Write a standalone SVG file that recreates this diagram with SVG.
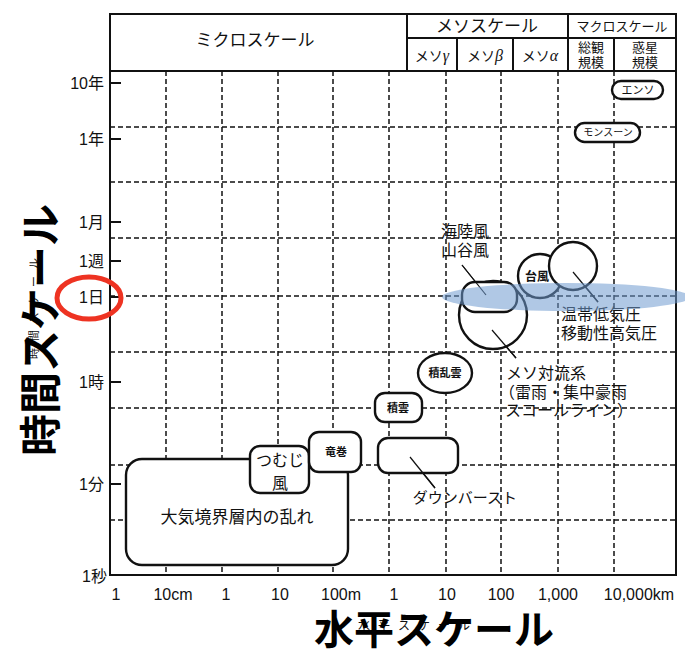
<svg xmlns="http://www.w3.org/2000/svg" width="685" height="652" viewBox="0 0 685 652">
<style>
.g{stroke:#111;stroke-width:1.5;stroke-dasharray:5 3;fill:none}
.s{stroke:#111;stroke-width:2;fill:none}
.n{stroke:#111;stroke-width:2.4;fill:#fff}
.ld{stroke:#111;stroke-width:1.2}
.t{font-family:"Noto Sans CJK JP","Liberation Sans",sans-serif;fill:#111}
.a{font-family:"Liberation Sans","Noto Sans CJK JP",sans-serif;font-size:16px;fill:#111}
.b{font-family:"Noto Sans CJK JP",sans-serif;font-weight:bold;fill:#000}
</style>
<rect width="685" height="652" fill="#fff"/>
<g id="grid">
<path class="g" d="M166 71V575M222 71V575M278 71V575M333 71V575M389 71V575M446 71V575M501 71V575M558 71V575M614 71V575"/>
<path class="g" d="M110 127H676M110 182H676M110 238H676M110 296H676M110 352H676M110 408H676M110 465H676M110 520H676"/>
</g>
<g id="frame">
<rect class="s" x="110" y="14" width="566" height="561"/>
<path class="s" d="M110 71H676M407 14V71M568 14V71M407 38H676M457 38V71M513 38V71M614 38V71"/>
<path class="s" d="M110 83H121M110 139H121M110 222H121M110 261H121M110 297H121M110 382H121M110 484H121"/>
</g>
<g id="header">
<text class="t" x="255" y="46" font-size="17" text-anchor="middle">ミクロスケール</text>
<text class="t" x="487" y="32" font-size="17" text-anchor="middle">メソスケール</text>
<text class="t" x="622" y="31" font-size="13" text-anchor="middle">マクロスケール</text>
<text class="t" x="432" y="61" font-size="14" text-anchor="middle">メソ<tspan font-family="Liberation Serif" font-style="italic" font-size="16">γ</tspan></text>
<text class="t" x="485" y="61" font-size="14" text-anchor="middle">メソ<tspan font-family="Liberation Serif" font-style="italic" font-size="16">β</tspan></text>
<text class="t" x="540" y="61" font-size="14" text-anchor="middle">メソ<tspan font-family="Liberation Serif" font-style="italic" font-size="16">α</tspan></text>
<text class="t" x="591" y="52" font-size="13" text-anchor="middle">総観</text>
<text class="t" x="591" y="67" font-size="13" text-anchor="middle">規模</text>
<text class="t" x="645" y="52" font-size="13" text-anchor="middle">惑星</text>
<text class="t" x="645" y="67" font-size="13" text-anchor="middle">規模</text>
</g>
<g id="yaxis-labels">
<text class="a" x="104" y="89" text-anchor="end">10年</text>
<text class="a" x="104" y="145" text-anchor="end">1年</text>
<text class="a" x="104" y="228" text-anchor="end">1月</text>
<text class="a" x="104" y="267" text-anchor="end">1週</text>
<text class="a" x="104" y="303" text-anchor="end">1日</text>
<text class="a" x="104" y="388" text-anchor="end">1時</text>
<text class="a" x="104" y="490" text-anchor="end">1分</text>
<text class="a" x="107" y="582" text-anchor="end">1秒</text>
</g>
<g id="xaxis-labels">
<text class="a" x="116" y="600" text-anchor="middle">1</text>
<text class="a" x="173" y="600" text-anchor="middle">10cm</text>
<text class="a" x="226" y="600" text-anchor="middle">1</text>
<text class="a" x="280" y="600" text-anchor="middle">10</text>
<text class="a" x="341" y="600" text-anchor="middle">100m</text>
<text class="a" x="394" y="600" text-anchor="middle">1</text>
<text class="a" x="447" y="600" text-anchor="middle">10</text>
<text class="a" x="501" y="600" text-anchor="middle">100</text>
<text class="a" x="558" y="600" text-anchor="middle">1,000</text>
<text class="a" x="639" y="600" text-anchor="middle">10,000km</text>
</g>
<g id="connectors">
<line class="ld" x1="410" y1="457" x2="435" y2="488"/>
<line class="ld" x1="462" y1="265" x2="486" y2="295"/>
<line class="ld" x1="492" y1="330" x2="516" y2="358"/>
<line class="ld" x1="573" y1="272" x2="598" y2="302"/>
</g>
<g id="boundary-layer">
<rect class="n" x="126" y="459" width="222" height="106" rx="16"/>
<text class="t" x="237" y="523" font-size="17" text-anchor="middle">大気境界層内の乱れ</text>
</g>
<g id="tsumuji">
<rect class="n" x="250" y="446" width="59" height="47" rx="10"/>
<text class="t" x="280" y="466" font-size="16" text-anchor="middle">つむじ</text>
<text class="t" x="280" y="489" font-size="16" text-anchor="middle">風</text>
</g>
<g id="tatsumaki">
<rect class="n" x="309" y="432" width="52" height="40" rx="10"/>
<text class="t" x="336" y="456" font-size="11" font-weight="bold" text-anchor="middle">竜巻</text>
</g>
<g id="sekiun">
<rect class="n" x="375" y="393" width="47" height="29" rx="10"/>
<text class="t" x="398" y="412" font-size="11" font-weight="bold" text-anchor="middle">積雲</text>
</g>
<g id="downburst">
<rect class="n" x="378" y="438" width="80" height="35" rx="10"/>
<text class="t" x="465" y="503" font-size="15" text-anchor="middle">ダウンバースト</text>
</g>
<g id="sekiranun">
<ellipse class="n" cx="445" cy="373" rx="27" ry="20"/>
<text class="t" x="445" y="377" font-size="11" font-weight="bold" text-anchor="middle">積乱雲</text>
</g>
<g id="meso-convective">
<circle class="n" cx="493" cy="315" r="34"/>
<text class="t" x="506" y="379" font-size="16">メソ対流系</text>
<text class="t" x="499" y="398" font-size="16">（雷雨・集中豪雨</text>
<text class="t" x="505" y="416" font-size="16">スコールライン）</text>
</g>
<g id="kairikufu">
<rect class="n" x="462" y="282" width="55" height="30" rx="13"/>
<text class="t" x="465" y="237" font-size="16" text-anchor="middle">海陸風</text>
<text class="t" x="465" y="256" font-size="16" text-anchor="middle">山谷風</text>
</g>
<g id="typhoon">
<circle class="n" cx="540" cy="276" r="22"/>
<text class="t" x="537" y="281" font-size="12" font-weight="bold" text-anchor="middle">台風</text>
</g>
<g id="cyclone">
<circle class="n" cx="573" cy="266" r="24"/>
<text class="t" x="561" y="320" font-size="16">温帯低気圧</text>
<text class="t" x="561" y="339" font-size="16">移動性高気圧</text>
</g>
<g id="enso">
<rect class="n" x="612" y="81" width="51" height="18" rx="9"/>
<text class="t" x="638" y="94" font-size="11" text-anchor="middle">エンソ</text>
</g>
<g id="monsoon">
<rect class="n" x="575" y="123" width="65" height="19" rx="9.5"/>
<text class="t" x="608" y="136" font-size="10" text-anchor="middle">モンスーン</text>
</g>
<g id="connector-overlay">
<line class="ld" x1="410" y1="457" x2="435" y2="488"/>
<line class="ld" x1="462" y1="265" x2="486" y2="295"/>
<line class="ld" x1="492" y1="330" x2="516" y2="358"/>
<line class="ld" x1="573" y1="272" x2="598" y2="302"/>
</g>
<g id="highlight">
<ellipse cx="566" cy="297" rx="124" ry="14" fill="#6f9bd0" fill-opacity="0.55"/>
<ellipse cx="89" cy="298" rx="32" ry="21" fill="none" stroke="#ee3322" stroke-width="5"/>
</g>
<g id="axis-titles">
<text class="t" x="38" y="305" font-size="11" text-anchor="middle" letter-spacing="7" transform="rotate(-90 38 305)">時間スケール</text>
<text class="b" x="56" y="330" font-size="42" text-anchor="middle" transform="rotate(-90 56 330)">時間スケール</text>
<text class="t" x="418" y="630" font-size="12" text-anchor="middle" letter-spacing="8">水平スケール</text>
<text class="b" x="434" y="644" font-size="40" text-anchor="middle">水平スケール</text>
</g>
</svg>
